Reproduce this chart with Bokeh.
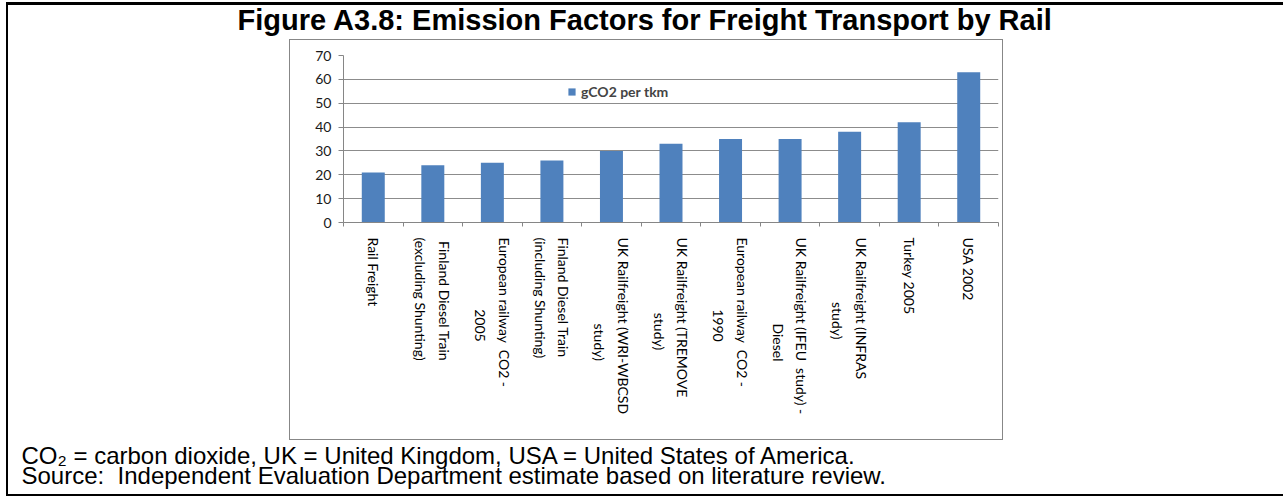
import math
from bokeh.plotting import figure
from bokeh.models import (ColumnDataSource, Range1d, FixedTicker, LinearAxis,
                          Legend, LegendItem, Title)
from bokeh.embed import file_html
from bokeh.resources import INLINE

# ---------------- data ----------------
categories = [
    "Rail Freight",
    "Finland Diesel Train\n(excluding Shunting)",
    "European railway  CO2 -\n2005",
    "Finland Diesel Train\n(including Shunting)",
    "UK Railfreight (WRI-WBCSD\nstudy)",
    "UK Railfreight (TREMOVE\nstudy)",
    "European railway  CO2 -\n1990",
    "UK Railfreight (IFEU  study) -\nDiesel",
    "UK Railfreight (INFRAS\nstudy)",
    "Turkey 2005",
    "USA 2002",
]
values = [21, 24, 25, 26, 30, 33, 35, 35, 38, 42, 63]
series_name = "gCO2 per tkm"
y_ticks = [0, 10, 20, 30, 40, 50, 60, 70]
title_text = "Figure A3.8: Emission Factors for Freight Transport by Rail"
note_lines = [
    "CO\u2082 = carbon dioxide, UK = United Kingdom, USA = United States of America.",
    "Source:\u00a0 Independent Evaluation Department estimate based on literature review.",
]

# ---------------- layout ----------------
W, H = 1283, 496
FL, FR, FT, FB = 343, 998, 55, 222
Y_MAX = y_ticks[-1]
N = len(categories)
LAB_FONT = 14

_cw = {
    'a': .49, 'b': .55, 'c': .45, 'd': .55, 'e': .51, 'f': .31, 'g': .47, 'h': .55, 'i': .23,
    'j': .23, 'k': .49, 'l': .23, 'm': .83, 'n': .55, 'o': .55, 'p': .55, 'r': .35, 's': .41,
    't': .34, 'u': .55, 'v': .49, 'w': .74, 'x': .48, 'y': .49, 'z': .44,
    'A': .66, 'B': .62, 'C': .64, 'D': .73, 'E': .55, 'F': .53, 'G': .70, 'H': .74, 'I': .27,
    'K': .63, 'L': .49, 'M': .90, 'N': .74, 'O': .78, 'P': .58, 'R': .60, 'S': .50, 'T': .56,
    'U': .71, 'V': .66, 'W': .98, 'Y': .61, ' ': .19, '(': .29, ')': .29, '-': .33, '.': .21,
}
NBSP_W = 0.193


def est_width(s):
    return sum(_cw.get(ch, .58) for ch in s)


def centred_label(text):
    """Emulate centred lines in a rotated multi-line tick label."""
    lines = text.split("\n")
    widest = max(est_width(l) for l in lines)
    out = []
    for l in lines:
        pad = int(round((widest - est_width(l)) / 2 / NBSP_W))
        out.append("\u00a0" * pad + l.replace("  ", "\u00a0 "))
    return "\n".join(out)


frame_css = """
:host { position: relative; }
:host::before {
  content: ""; position: absolute; left: 6px; top: 2px; width: 1277px; height: 494px;
  box-sizing: border-box; border-top: 3px solid #000; border-left: 2px solid #000;
  border-bottom: 2px solid #000; pointer-events: none; z-index: 5;
}
:host::after {
  content: ""; position: absolute; left: 289px; top: 39px; width: 714px; height: 401px;
  box-sizing: border-box; border: 1px solid #878787; pointer-events: none; z-index: 5;
}
"""

p = figure(width=W, height=H,
           x_range=Range1d(0, N), y_range=Range1d(0, Y_MAX),
           output_backend="svg", toolbar_location=None,
           min_border_left=FL, min_border_right=W - FR,
           min_border_top=FT, min_border_bottom=H - FB)
p.stylesheets = [frame_css]
p.outline_line_color = None
p.background_fill_color = "white"
p.border_fill_color = "white"

# title (outermost element of the "above" panel)
p.title.text = title_text
p.title.align = "left"
p.title.offset = 237 - FL
p.title.standoff = 0
p.title.text_font = "Liberation Sans"
p.title.text_font_style = "bold"
p.title.text_font_size = "29px"
p.title.text_color = "black"

# spacer between title and plot frame
p.add_layout(Title(text="\u00a0", text_font_size="10px", standoff=7.2), "above")

AX = "#868686"
yax = p.yaxis[0]
yax.ticker = FixedTicker(ticks=y_ticks)
yax.major_tick_in = 0
yax.major_tick_out = 5
yax.minor_tick_line_color = None
yax.axis_line_color = AX
yax.major_tick_line_color = AX
yax.major_label_text_font = "Lato"
yax.major_label_text_font_size = "14px"
yax.major_label_text_color = "#1a1a1a"
yax.major_label_standoff = 7

p.ygrid.grid_line_color = "#8C8C8C"
p.xgrid.visible = False

# category slots: boundaries carry the ticks, centres carry bars and labels
slot_centres = [i + 0.5 for i in range(N)]
xax = p.xaxis[0]
xax.ticker = FixedTicker(ticks=list(range(N + 1)))
xax.major_label_overrides = {i: "" for i in range(N + 1)}
xax.major_tick_in = 0
xax.major_tick_out = 4
xax.minor_tick_line_color = None
xax.axis_line_color = AX
xax.major_tick_line_color = AX
xax.major_label_text_font_size = "1px"
xax.major_label_standoff = 0

cat_axis = LinearAxis(ticker=FixedTicker(ticks=slot_centres),
                      major_label_overrides={c: centred_label(t)
                                             for c, t in zip(slot_centres, categories)})
cat_axis.axis_line_color = None
cat_axis.major_tick_line_color = None
cat_axis.minor_tick_line_color = None
cat_axis.major_tick_in = 0
cat_axis.major_tick_out = 0
cat_axis.major_label_orientation = -math.pi / 2
cat_axis.major_label_standoff = 11
cat_axis.major_label_text_font = "Lato"
cat_axis.major_label_text_font_size = f"{LAB_FONT}px"
cat_axis.major_label_text_color = "#000000"
cat_axis.major_label_text_line_height = 1.4
p.add_layout(cat_axis, "below")

# spacer, then the notes (below)
p.add_layout(Title(text="\u00a0", text_font_size="10px", standoff=7.9), "below")
notes = Title(text="\n".join(note_lines), align="left", offset=21 - FL, standoff=4,
              text_font="Liberation Sans", text_font_style="normal",
              text_font_size="24px", text_color="black", text_line_height=0.746)
p.add_layout(notes, "below")

src = ColumnDataSource(dict(x=slot_centres, cat=categories, val=values))
bars = p.vbar(x="x", top="val", width=0.386, source=src,
              fill_color="#4F81BD", line_color=None)

legend = Legend(items=[LegendItem(label=series_name, renderers=[bars])],
                location=(224, 122), padding=0, margin=0, border_line_color=None,
                background_fill_alpha=0, glyph_width=9, glyph_height=9,
                label_standoff=5, label_text_font="Lato", label_text_font_style="bold",
                label_text_font_size="14px", label_height=9)
p.add_layout(legend)

open("out.html", "w").write(file_html(p, INLINE))
